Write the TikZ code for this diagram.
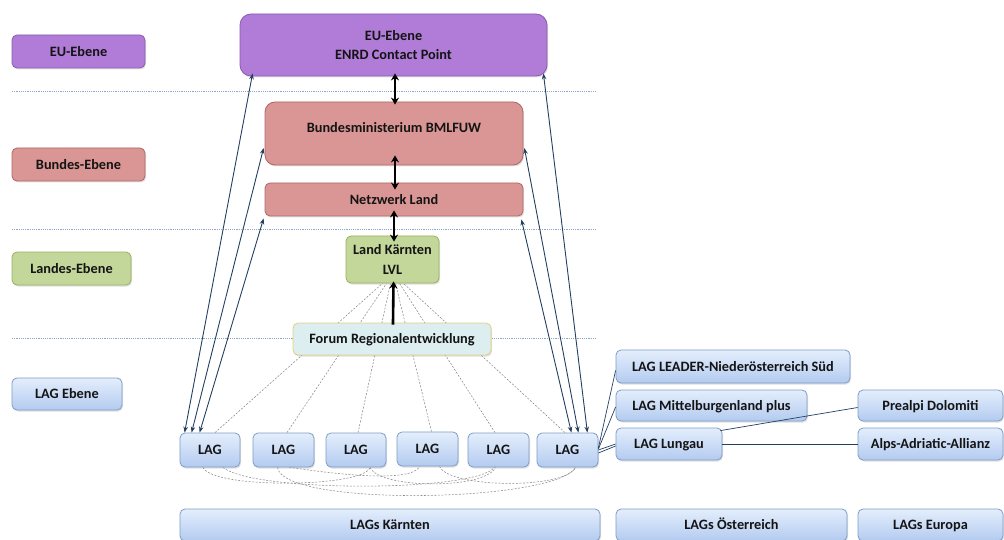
\documentclass[tikz,border=0pt]{standalone}
\usepackage{fontspec}
\setmainfont{Carlito}
\usetikzlibrary{arrows.meta,shadows,backgrounds,calc}
\definecolor{purfill}{HTML}{B07CD8}
\definecolor{purdraw}{HTML}{8A5BAD}
\definecolor{pinkfill}{HTML}{DA9694}
\definecolor{pinkdraw}{HTML}{B06664}
\definecolor{grnfill}{HTML}{C4D79B}
\definecolor{grndraw}{HTML}{98B060}
\definecolor{bluetop}{HTML}{E4EEFC}
\definecolor{bluebot}{HTML}{B3CBF0}
\definecolor{bluedraw}{HTML}{7E9CC7}
\definecolor{forfill}{HTML}{DCEEF0}
\definecolor{fordraw}{HTML}{E2CF7C}
\definecolor{navy}{HTML}{243F60}
\definecolor{sepline}{HTML}{8EA9C8}
\definecolor{txt}{HTML}{141414}
\tikzset{
  box/.style={rounded corners=5pt, line width=0.8pt, align=center, inner sep=1pt,
    text=txt, drop shadow={opacity=0.25, shadow xshift=1pt, shadow yshift=-1.5pt}},
  oneline/.style={text height=11.3pt, text depth=2pt},
  purbox/.style={box, draw=purdraw, fill=purfill},
  pinkbox/.style={box, draw=pinkdraw, fill=pinkfill},
  grnbox/.style={box, draw=grndraw, fill=grnfill},
  bluebox/.style={box, oneline, draw=bluedraw, top color=bluetop, bottom color=bluebot},
  forbox/.style={box, oneline, draw=fordraw, fill=forfill},
  thin arrow/.style={navy, line width=0.9pt, {Stealth[length=6pt,width=4.5pt]}-{Stealth[length=6pt,width=4.5pt]}},
  thick arrow/.style={black, line width=2.6pt, {Stealth[length=7pt,width=8pt]}-{Stealth[length=7pt,width=8pt]}},
  fanline/.style={gray, line width=0.5pt, dash pattern=on 2pt off 1.5pt},
  arcline/.style={gray!90, line width=0.55pt, dash pattern=on 2pt off 1.5pt},
  sep/.style={sepline, line width=0.6pt, dash pattern=on 1.2pt off 1pt},
  link/.style={navy, line width=0.7pt}
}
\begin{document}
\begin{tikzpicture}[x=1pt,y=-1pt,font=\fontsize{14.3}{19.5}\selectfont\bfseries]
\useasboundingbox (0,0) rectangle (1004,540);
% level labels
\node[purbox, oneline, minimum width=133pt, minimum height=33pt] (lEU) at (78.5,51.5) {EU-Ebene};
\node[pinkbox, oneline, minimum width=133pt, minimum height=33pt] (lBund) at (78.5,164.5) {Bundes-Ebene};
\node[grnbox, oneline, minimum width=119pt, minimum height=33pt] (lLand) at (71.5,268.5) {Landes-Ebene};
\node[bluebox, minimum width=110pt, minimum height=32pt] (lLAG) at (67,394) {LAG Ebene};
% main boxes
\node[purbox, rounded corners=11pt, minimum width=307pt, minimum height=62pt] (eu) at (393.5,45) {EU-Ebene\\ENRD Contact Point};
\node[pinkbox, rounded corners=10pt, minimum width=258pt, minimum height=63pt, text height=11pt, text depth=12pt] (bml) at (394,133.5) {Bundesministerium BMLFUW};
\node[pinkbox, oneline, minimum width=258pt, minimum height=33pt] (netz) at (394,199.5) {Netzwerk Land};
\node[grnbox, minimum width=93pt, minimum height=47pt] (lk) at (392.5,259.5) {Land Kärnten\\LVL};
% LAGs
\node[bluebox, minimum width=60pt, minimum height=34pt] (lag1) at (210,450) {LAG};
\node[bluebox, minimum width=61pt, minimum height=34pt] (lag2) at (283.5,450) {LAG};
\node[bluebox, minimum width=60pt, minimum height=34pt] (lag3) at (356,450) {LAG};
\node[bluebox, minimum width=61pt, minimum height=34pt] (lag4) at (427.5,449) {LAG};
\node[bluebox, minimum width=61pt, minimum height=34pt] (lag5) at (498.5,450) {LAG};
\node[bluebox, minimum width=61pt, minimum height=34pt] (lag6) at (567.5,450) {LAG};
% right side
\node[bluebox, minimum width=234pt, minimum height=33pt] (leader) at (733,366.5) {LAG LEADER-Niederösterreich Süd};
\node[bluebox, minimum width=191pt, minimum height=31pt] (mittel) at (711.5,405.5) {LAG Mittelburgenland plus};
\node[bluebox, minimum width=106pt, minimum height=32pt] (lungau) at (669,444) {LAG Lungau};
\node[bluebox, minimum width=145pt, minimum height=31pt] (prealpi) at (930.5,405.5) {Prealpi Dolomiti};
\node[bluebox, minimum width=145pt, minimum height=32pt] (alps) at (930.5,444) {Alps-Adriatic-Allianz};
% bottom
\node[bluebox, minimum width=420pt, minimum height=32pt] (kaernten) at (390,525) {LAGs Kärnten};
\node[bluebox, minimum width=231pt, minimum height=32pt] (oest) at (731.5,525) {LAGs Österreich};
\node[bluebox, minimum width=145pt, minimum height=32pt] (europa) at (930.5,525) {LAGs Europa};

\begin{scope}[on background layer]
  \draw[sep] (12,91) -- (597,91);
  \draw[sep] (12,229) -- (597,229);
  \draw[sep] (12,338) -- (597,338);
  % fan lines from LAGs to Land Kaernten
  \draw[fanline] ([xshift=5pt]lag1.north) -- ([xshift=-10pt]lk.south);
  \draw[fanline] ([xshift=3.5pt]lag2.north) -- ([xshift=-6pt]lk.south);
  \draw[fanline] ([xshift=2pt]lag3.north) -- ([xshift=-2pt]lk.south);
  \draw[fanline] ([xshift=4pt]lag4.north) -- ([xshift=3pt]lk.south);
  \draw[fanline] ([xshift=-3.5pt]lag5.north) -- ([xshift=7pt]lk.south);
  \draw[fanline] ([xshift=-2.5pt]lag6.north) -- ([xshift=11pt]lk.south);
  % arcs below LAGs
  \draw[arcline] ([xshift=-7pt]lag1.south) .. controls +(10,22) and +(-5,20) .. ([xshift=14pt]lag3.south);
  \draw[arcline] ([xshift=13pt]lag1.south) .. controls +(30,25) and +(-20,25) .. ([xshift=-4pt]lag5.south);
  \draw[arcline] ([xshift=-6pt]lag2.south) .. controls +(5,40) and +(-20,35) .. ([xshift=8pt]lag6.south);
  \draw[arcline] ([xshift=6pt]lag2.south) .. controls +(-8,-2) and +(-10,22) .. ([xshift=-8pt]lag4.south);
  \draw[arcline] ([xshift=14pt]lag3.south) .. controls +(10,22) and +(-10,22) .. ([xshift=-3pt]lag5.south);
  \draw[arcline] ([xshift=12pt]lag4.south) .. controls +(10,22) and +(-10,22) .. ([xshift=8pt]lag6.south);
\end{scope}

\node[forbox, minimum width=198pt, minimum height=32pt] (forum) at (392,339) {Forum Regionalentwicklung};

% thin double arrows
\draw[thin arrow] ([xshift=5pt]lag1.north west) -- ([xshift=13pt,yshift=3pt]eu.south west);
\draw[thin arrow] ([xshift=12pt]lag1.north west) -- ([xshift=-1pt,yshift=-14.5pt]bml.west);
\draw[thin arrow] ([xshift=20pt]lag1.north west) -- ([xshift=-1pt,yshift=-2pt]netz.south west);
\draw[thin arrow] ([xshift=-11pt]lag6.north east) -- ([xshift=-4pt,yshift=3pt]eu.south east);
\draw[thin arrow] ([xshift=-20pt]lag6.north east) -- ([xshift=1pt,yshift=-14.5pt]bml.east);
\draw[thin arrow] ([xshift=-27pt]lag6.north east) -- ([xshift=-2pt,yshift=-3pt]netz.south east);
% thick arrows
\draw[thick arrow, shorten <=-3pt, shorten >=-3pt] ([xshift=1.5pt]eu.south) -- ([xshift=1pt]bml.north);
\draw[thick arrow, shorten <=-10pt, shorten >=-7pt] ([xshift=1pt]bml.south) -- ([xshift=1pt]netz.north);
\draw[thick arrow, shorten <=-6pt, shorten >=-6pt] (netz.south) -- ([xshift=1.5pt]lk.north);
\draw[black, line width=2.6pt, -{Stealth[length=7pt,width=8pt]}, shorten <=-2pt, shorten >=-2pt] ([xshift=1pt]forum.north) -- ([xshift=1pt]lk.south);
% right links
\draw[link] ([yshift=2pt]lag6.east) -- ([yshift=-4pt]leader.west);
\draw[link] ([yshift=1pt]lag6.east) -- ([yshift=-1.5pt]mittel.west);
\draw[link] (lag6.east) -- (lungau.west);
\draw[link] ([yshift=-3pt]lag6.east) -- ([yshift=-2pt]lungau.west);
\draw[link] ([xshift=-2pt,yshift=-3pt]lungau.north east) -- ([yshift=-2pt]prealpi.west);
\draw[link] (lungau.east) -- (alps.west);
\end{tikzpicture}
\end{document}
